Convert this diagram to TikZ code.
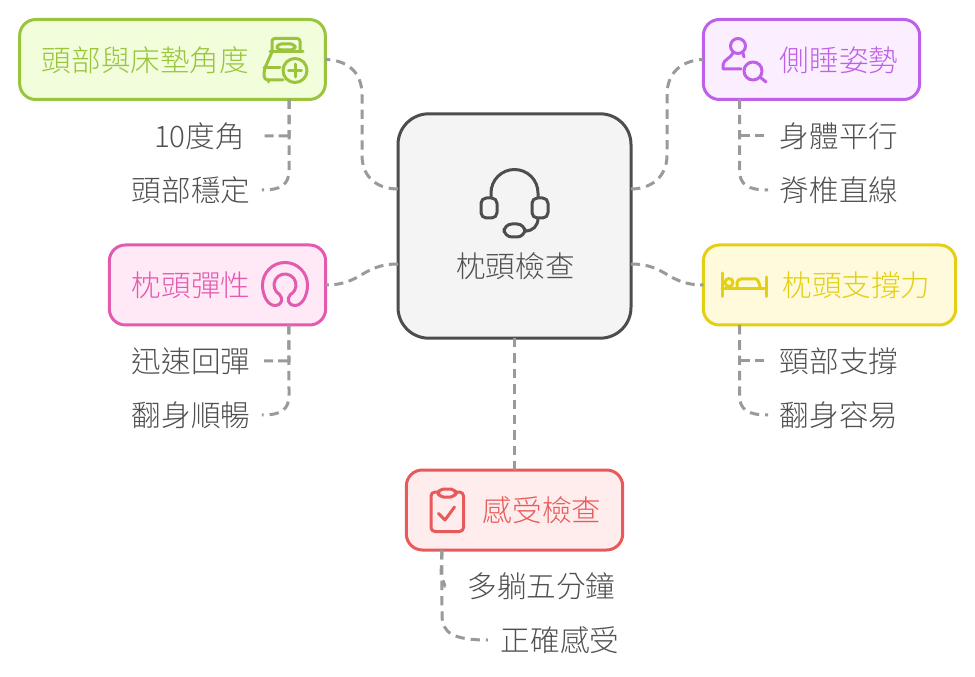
\documentclass[tikz,border=0pt]{standalone}
\usepackage{fontspec}
\setmainfont{Noto Sans CJK TC}[UprightFont=* Light]
\definecolor{cgreen}{HTML}{99C43B}\definecolor{fgreen}{HTML}{F2FDDC}
\definecolor{cpurple}{HTML}{BF60E8}\definecolor{fpurple}{HTML}{FAEEFF}
\definecolor{cpink}{HTML}{E25BAE}\definecolor{fpink}{HTML}{FFE9F6}
\definecolor{cyellow}{HTML}{E3CF14}\definecolor{fyellow}{HTML}{FFFADB}
\definecolor{cred}{HTML}{E85A5A}\definecolor{fred}{HTML}{FFECEC}
\definecolor{cdark}{HTML}{4D4D4D}\definecolor{fdark}{HTML}{F4F4F4}
\definecolor{ctext}{HTML}{505050}\definecolor{cline}{HTML}{9A9A9A}
\tikzset{
 boxn/.style={draw=#1,line width=2.25pt,rounded corners=12pt,minimum height=60pt,inner sep=0pt,outer sep=0pt},
 lab/.style={font=\fontsize{22.2}{24}\selectfont,inner ysep=0pt,inner xsep=0pt,text=#1},
 leaf/.style={font=\fontsize{22.2}{24}\selectfont,inner ysep=0pt,inner xsep=9.5pt,text=ctext},
 leafb/.style={leaf,inner xsep=8.5pt},
 conn/.style={draw=cline,line width=2.25pt,dash pattern=on 7pt off 4.5pt},
 connshort/.style={draw=cline,line width=2.25pt,dash pattern=on 6.8pt off 4.2pt},
 connfirst/.style={draw=cline,line width=2.25pt,dash pattern=on 7pt off 4.5pt on 7pt off 4.5pt on 12.2pt off 3.75pt on 6.75pt off 15pt},
 conntick/.style={draw=cline,line width=2.25pt,dash pattern=on 7pt off 4.5pt on 7pt off 4.5pt on 5pt off 30pt},
 ico/.style={draw=#1,line width=2.25pt,line cap=round,line join=round},
}
\begin{document}
\begin{tikzpicture}[x=0.75pt,y=-0.75pt]
\useasboundingbox (0,0) rectangle (975,677);
% boxes
\node[boxn=cgreen,fill=fgreen,minimum width=229.25pt] (green) at (172.5,59.5) {};
\node[boxn=cpurple,fill=fpurple,minimum width=162.25pt] (purple) at (811.5,59.5) {};
\node[boxn=cpink,fill=fpink,minimum width=162.25pt] (pink) at (217.5,285) {};
\node[boxn=cyellow,fill=fyellow,minimum width=189.25pt] (yellow) at (829.5,285) {};
\node[boxn=cred,fill=fred,minimum width=162.25pt] (red) at (514.5,510) {};
\node[boxn=cdark,fill=fdark,minimum width=174.75pt,minimum height=168.25pt,rounded corners=23pt] (center) at (514.5,226) {};
% labels
\node[lab=cgreen] (tgreen) at (145.5,60) {頭部與床墊角度};
\node[lab=cpurple] (tpurple) at (839,60) {側睡姿勢};
\node[lab=cpink] (tpink) at (191,285) {枕頭彈性};
\node[lab=cyellow] (tyellow) at (856.5,285) {枕頭支撐力};
\node[lab=cred] (tred) at (542,510) {感受檢查};
\node[lab=ctext] (tcenter) at (515.5,266) {枕頭檢查};
% leaves
\node[leaf,inner xsep=13.5pt] (g1) at (199.5,136) {10度角};
\node[leafb] (g2) at (191,190) {頭部穩定};
\node[leaf] (p1) at (839,136) {身體平行};
\node[leafb] (p2) at (839,190) {脊椎直線};
\node[leaf] (k1) at (191,361) {迅速回彈};
\node[leafb] (k2) at (191,415) {翻身順暢};
\node[leaf] (y1) at (839,361) {頸部支撐};
\node[leafb] (y2) at (839,415) {翻身容易};
\node[leaf] (r1) at (541.5,586) {多躺五分鐘};
\node[leaf] (r2) at (560,640) {正確感受};
% connectors centre to boxes
\draw[conn] ([yshift=27.75pt]center.west) .. controls (378,189) and (362,178) .. (362,155) -- (362,95) .. controls (362,70) and (345,60) .. (green.east);
\draw[conn] ([yshift=27.75pt]center.east) .. controls (650,189) and (667,178) .. (667,155) -- (667,95) .. controls (667,70) and (685,60) .. (purple.west);
\draw[connshort] ([yshift=-28.5pt]center.west) .. controls (362,264) and (362,285) .. (pink.east);
\draw[connshort] ([yshift=-28.5pt]center.east) .. controls (667,264) and (667,285) .. (yellow.west);
\draw[conn] (center.south) -- (red.north);
% connectors to leaves
\draw[connfirst] ([xshift=87.4pt]green.south) -- (289,136) -- (g1.east);
\draw[conn] ([xshift=87.4pt]green.south) -- (289,170) .. controls (289,185) and (281,190) .. (g2.east);
\draw[connfirst] ([xshift=-54pt]purple.south) -- (739.5,136) -- (p1.west);
\draw[conn] ([xshift=-54pt]purple.south) -- (739.5,170) .. controls (739.5,185) and (748,190) .. (p2.west);
\draw[connfirst] ([xshift=53.6pt]pink.south) -- (289,361) -- (k1.east);
\draw[conn] ([xshift=53.6pt]pink.south) -- (289,395) .. controls (289,410) and (281,415) .. (k2.east);
\draw[connfirst] ([xshift=-67.5pt]yellow.south) -- (739.5,361) -- (y1.west);
\draw[conn] ([xshift=-67.5pt]yellow.south) -- (739.5,395) .. controls (739.5,410) and (748,415) .. (y2.west);
\draw[conntick] ([xshift=-54.4pt]red.south) -- (441,575) -- (445,586) -- (r1.west);
\draw[conn] ([xshift=-54.4pt]red.south) -- (442,615) .. controls (442,633) and (453,640) .. (r2.west);
% headset icon
\begin{scope}[ico=cdark]
\draw (491,197) -- (491,193) arc[start angle=180,end angle=360,radius=23.5] -- (538,197);
\draw[rounded corners=4pt] (481,198) rectangle (497,218);
\draw[rounded corners=4pt] (532,198) rectangle (548,218);
\draw[rounded corners=6pt] (504,224) rectangle (525,237);
\draw (538,218) .. controls (538,226) and (533,231) .. (525,231);
\end{scope}
% green icon
\begin{scope}[ico=cgreen]
\draw[rounded corners=2pt] (272,52) -- (272,38.5) -- (300,38.5) -- (300,52);
\draw[rounded corners=3pt] (277,44) rectangle (295,50);
\draw (270,52) -- (303,52);
\draw[rounded corners=3pt] (272,52) -- (264,70) -- (264,80) -- (283,80);
\draw (264,68) -- (280,68);
\draw (268,80) -- (268,82);
\draw (295,70.5) circle[radius=12];
\draw (288.5,70.5) -- (301.5,70.5) (295,64) -- (295,77);
\end{scope}
% purple icon
\begin{scope}[ico=cpurple]
\draw (738,46) circle[radius=7.5];
\draw (733,53) .. controls (731,58) and (723,60) .. (723,65) -- (723,69) -- (741,69);
\draw (743,53) -- (744,57);
\draw (753,71) circle[radius=9];
\draw (760,77) -- (766,82);
\end{scope}
% pink icon
\begin{scope}[ico=cpink]
\draw (279.5,294.5) arc[start angle=120,end angle=420,radius=11] .. controls (287,298) and (287,305) .. (295,305.5)
 .. controls (302,305.5) and (307.5,296) .. (307.5,285) arc[start angle=0,end angle=-180,radius=22.5]
 .. controls (262.5,296) and (268,305.5) .. (275,305.5) .. controls (283,305) and (283,298) .. (279.5,294.5);
\end{scope}
% yellow icon
\begin{scope}[ico=cyellow]
\draw (722,273) -- (722,296.5) (766,277) -- (766,296.5) (722,289) -- (766,289);
\draw (729,282.5) circle[radius=4];
\draw[rounded corners=3pt] (737,288) -- (737,279) -- (752,279) .. controls (757,279) and (760,283) .. (760,288);
\end{scope}
% red icon
\begin{scope}[ico=cred]
\draw[rounded corners=3pt] (431,492) rectangle (463.5,531.5);
\draw[fill=fred,rounded corners=4pt] (438,489) rectangle (456,497);
\draw (438.5,513.5) -- (445,520) -- (454.5,507);
\end{scope}
\end{tikzpicture}
\end{document}
